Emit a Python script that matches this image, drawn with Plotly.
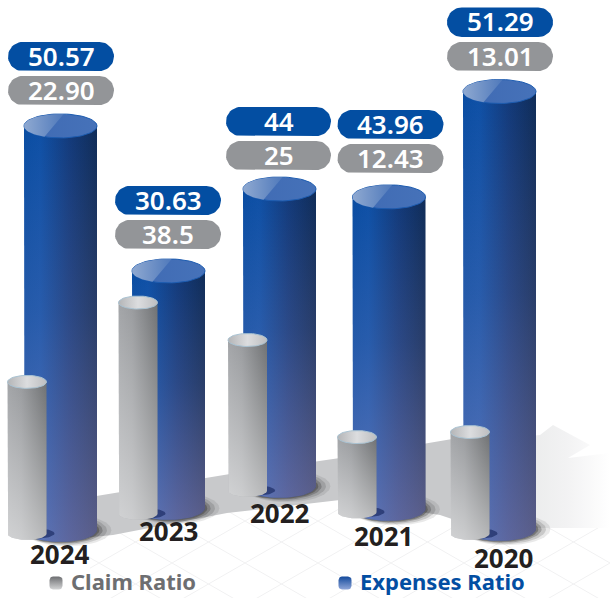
import numpy as np
import plotly.graph_objects as go

# Data
years = ["2024", "2023", "2022", "2021", "2020"]
claim_ratio = [22.90, 38.5, 25, 12.43, 13.01]
expenses_ratio = [50.57, 30.63, 44, 43.96, 51.29]
claim_labels = ["22.90", "38.5", "25", "12.43", "13.01"]
expenses_labels = ["50.57", "30.63", "44", "43.96", "51.29"]

# Perspective layout per year: floor height and pixels per unit differ with depth
W, H = 610, 598
BLUE_CX = [60.5, 168.5, 279.5, 389, 499.5]
BLUE_FLOOR = [530, 508, 486, 509, 529]
BLUE_SCALE = [7.99, 7.74, 6.75, 7.10, 8.53]
GRAY_CX = [27, 138, 247.5, 357, 470]
GRAY_FLOOR = [533.5, 513.5, 490.5, 512, 533.5]
GRAY_SCALE = [6.62, 5.48, 6.02, 6.03, 7.80]
PILL_X = [(8, 114), (115, 221), (226, 331), (337.5, 443.5), (447, 553)]
PILL_BLUE_Y = [(42, 71), (186, 215), (107, 136), (110, 139), (7.5, 37)]
PILL_GRAY_Y = [(76, 105), (220, 249), (141, 170), (144, 173), (42, 71)]
YEAR_POS = [(60, 554), (169, 531), (280, 513), (384, 536), (504, 558)]

BLUE = "#034ea2"
GRAY = "#939598"
FONT = "Noto Sans"

fig = go.Figure()
annotations = []
axes = {}
theta = np.linspace(0, 2 * np.pi, 73)


def add_poly(x, y, yaxis="y", color=None, gradient=None, line=None):
    fig.add_trace(go.Scatter(
        x=list(x), y=list(y), mode="lines", fill="toself", yaxis=yaxis, xaxis="x",
        fillcolor=color, fillgradient=gradient,
        line=dict(width=1 if line else 0, color=line or "rgba(0,0,0,0)"),
        hoverinfo="skip", showlegend=False,
    ))


def horiz(stops):
    return dict(type="horizontal", colorscale=stops)


def vert(stops):
    return dict(type="vertical", colorscale=stops)


def new_axis(floor, scale):
    """Overlay y axis whose zero sits on the given floor row."""
    name = f"y{len(axes) + 2}"
    axes[f"yaxis{len(axes) + 2}"] = dict(
        overlaying="y", anchor="x", visible=False, fixedrange=True,
        range=[(floor - H) / scale, floor / scale],
    )
    return name


def cylinder(value, cx, rx, ry, floor, scale, body_stops, light_stops, cap_stops, rim, sheen_stops=None):
    ax = new_axis(floor, scale)
    ey = ry / scale
    arc = np.linspace(np.pi, 2 * np.pi, 37)
    xs = np.concatenate([[cx - rx], cx + rx * np.cos(arc), [cx + rx], [cx - rx]])
    ys = np.concatenate([[value], ey * np.sin(arc), [value], [value]])
    add_poly(xs, ys, ax, gradient=horiz(body_stops))
    add_poly(xs, ys, ax, gradient=vert(light_stops))
    add_poly(cx + rx * np.cos(theta), value + ey * np.sin(theta), ax,
             gradient=horiz(cap_stops), line=rim)
    if sheen_stops:
        # lighter wedge across the left of the cap, cut by a slanted chord
        a = np.radians(np.linspace(85, 244, 40))
        add_poly(cx + rx * np.cos(a), value + ey * np.sin(a), ax, gradient=horiz(sheen_stops))
    return ax


def ground_shadow(value_ax, cx, rx, ey):
    for grow, alpha in [(13, 0.10), (9, 0.16), (5, 0.26), (2, 0.34)]:
        add_poly(cx + grow * 0.55 + (rx + grow * 0.55) * np.cos(theta),
                 ey * (1 + grow / 40) * np.sin(theta) - ey * 0.02,
                 value_ax, color=f"rgba(40,40,40,{alpha})")


def stage_lines():
    # Perspective floor tiles, only across the middle of the floor
    xs, ys = [], []
    for k in range(-6, 12):
        x0 = 245 + 73 * k
        for sign in (1, -1):
            px = np.array([x0 - 120, x0 + 120], dtype=float)
            keep = np.clip(px, 90, 610)
            py = 563 + sign * 0.575 * (keep - x0)
            xs += [keep[0], keep[1], None]
            ys += [py[0], py[1], None]
    fig.add_trace(go.Scatter(x=xs, y=ys, mode="lines", line=dict(color="#f1f1f2", width=1),
                             hoverinfo="skip", showlegend=False))


# Base plate behind the columns
stage_lines()
add_poly([0, 610, 610, 0], [300, 300, 395, 395], color="#ffffff")
add_poly([540, 553, 590, 568, 610, 610, 530, 530],
         [435, 425, 445, 458, 453, 528, 528, 436],
         gradient=horiz([[0, "#ebecec"], [0.45, "#f2f2f3"], [1, "#ffffff"]]))
add_poly([60, 230, 340, 450, 470, 470, 440, 340, 227, 113, 60],
         [502, 474, 458, 439, 436, 525, 515, 500, 513, 535, 540],
         color="#c8c9cb")

# Blue and grey columns
blue_body = [[0, "#0a4da2"], [0.22, "#0e50a6"], [0.62, "#123a7b"], [1, "#0f2c58"]]
blue_light = [[0, "rgba(215,175,215,0.38)"], [0.55, "rgba(215,175,215,0.13)"], [1, "rgba(215,175,215,0)"]]
blue_cap = [[0, "#3f6ab3"], [1, "#4672b9"]]
blue_sheen = [[0, "#8fa9d1"], [1, "#4f79bb"]]
gray_body = [[0, "#a3a5a8"], [0.35, "#9a9c9f"], [1, "#6f7173"]]
gray_light = [[0, "rgba(255,255,255,0.50)"], [1, "rgba(255,255,255,0)"]]
gray_cap = [[0, "#b4b5b7"], [0.5, "#dcdddf"], [1, "#bdbec0"]]

for i in range(len(years)):
    blue_ry, gray_ry = 12, 6.5
    ax = new_axis(BLUE_FLOOR[i], BLUE_SCALE[i])
    ground_shadow(ax, BLUE_CX[i], 36.5, blue_ry / BLUE_SCALE[i])
    cylinder(expenses_ratio[i], BLUE_CX[i], 36.5, blue_ry, BLUE_FLOOR[i], BLUE_SCALE[i],
             blue_body, blue_light, blue_cap, "#1d5cb0", blue_sheen)
    # grey column's contact shadow on the blue one
    ax = new_axis(GRAY_FLOOR[i], GRAY_SCALE[i])
    add_poly(GRAY_CX[i] + 8 + 19.5 * np.cos(theta), gray_ry / GRAY_SCALE[i] * 0.8 * np.sin(theta),
             ax, color="rgba(25,40,95,0.65)")
    cylinder(claim_ratio[i], GRAY_CX[i], 19.5, gray_ry, GRAY_FLOOR[i], GRAY_SCALE[i],
             gray_body, gray_light, gray_cap, "#a9c3d3")


def pill(x0, x1, y0, y1, color):
    r = (y1 - y0) / 2
    a = np.linspace(-np.pi / 2, np.pi / 2, 25)
    xs = np.concatenate([x1 - r + r * np.cos(a), x0 + r - r * np.cos(a)])
    ys = np.concatenate([(y0 + y1) / 2 + r * np.sin(a), (y0 + y1) / 2 - r * np.sin(a)])
    add_poly(xs, ys, color=color)


def label(x, y, text, color, size, weight=600, anchor="center"):
    annotations.append(dict(
        x=x, y=y, xref="x", yref="y", text=text, showarrow=False, xanchor=anchor, yanchor="middle",
        font=dict(family=FONT, size=size, color=color, weight=weight),
    ))


for i in range(len(years)):
    x0, x1 = PILL_X[i]
    pill(x0, x1, *PILL_BLUE_Y[i], BLUE)
    pill(x0, x1, *PILL_GRAY_Y[i], GRAY)
    label((x0 + x1) / 2, sum(PILL_BLUE_Y[i]) / 2 - 1, expenses_labels[i], "#ffffff", 26)
    label((x0 + x1) / 2, sum(PILL_GRAY_Y[i]) / 2 - 1, claim_labels[i], "#ffffff", 26)
    label(*YEAR_POS[i], years[i], "#231f20", 26, 700)


def legend_mark(cx, cy, stops):
    s, r = 6.5, 3.5
    t = np.linspace(0, np.pi / 2, 7)
    xs, ys = [], []
    for qx, qy, offs in [(1, 1, 0), (-1, 1, np.pi / 2), (-1, -1, np.pi), (1, -1, 1.5 * np.pi)]:
        xs += list(cx + qx * (s - r) + r * np.cos(t + offs))
        ys += list(cy + qy * (s - r) + r * np.sin(t + offs))
    add_poly(xs, ys, gradient=vert(stops))


legend_mark(56, 583, [[0, "#d4d5d6"], [1, "#6d6e71"]])
legend_mark(345, 583, [[0, "#8fa6d8"], [1, "#134a9c"]])
label(69, 581, "Claim Ratio", "#6d6e71", 22, 700, "left")
label(358, 581, "Expenses Ratio", BLUE, 22, 700, "left")

fig.update_layout(
    width=W, height=H, margin=dict(l=0, r=0, t=0, b=0),
    paper_bgcolor="#ffffff", plot_bgcolor="#ffffff", showlegend=False,
    xaxis=dict(range=[0, W], visible=False, fixedrange=True),
    yaxis=dict(range=[H, 0], visible=False, fixedrange=True),
    annotations=annotations,
    **axes,
)
fig.write_html("out.html", config={"displayModeBar": False})
